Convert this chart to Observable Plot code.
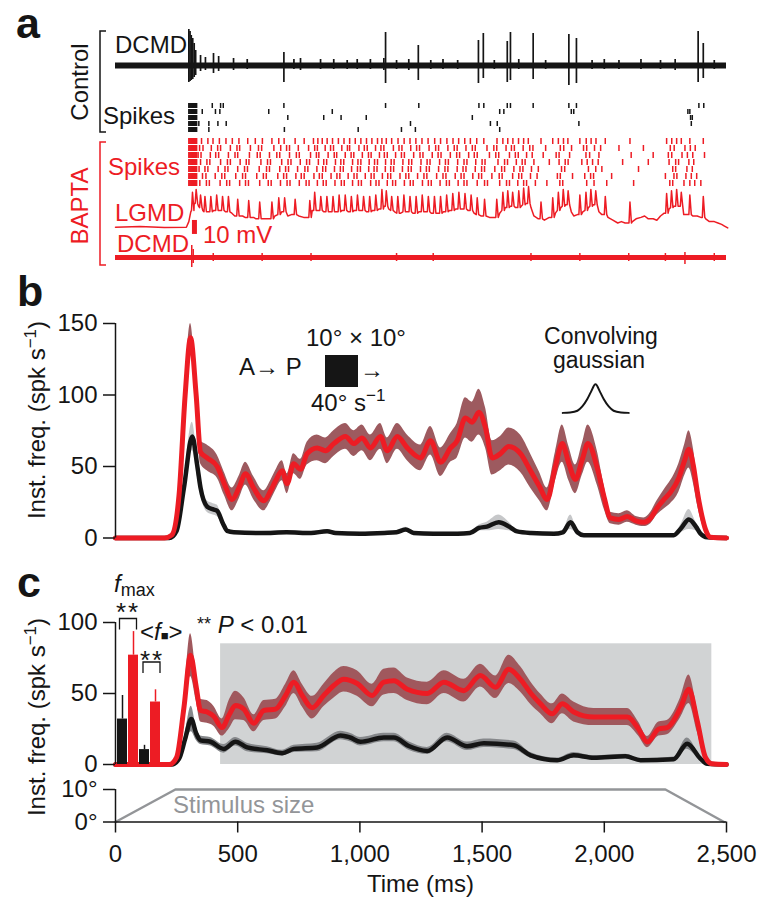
<!DOCTYPE html>
<html><head><meta charset="utf-8">
<script src="https://cdn.jsdelivr.net/npm/d3@7"></script>
<script src="https://cdn.jsdelivr.net/npm/@observablehq/plot@0.6"></script>
<style>
html,body{margin:0;padding:0;background:#fff}
#fig{position:relative;width:765px;height:909px;background:#fff;overflow:hidden;font-family:"Liberation Sans",Arial,sans-serif}
</style></head>
<body><div id="fig"></div>
<script>
// ---------------- DATA ----------------
const timeDomain = [0, 2500];
const timeTicks = [0, 500, 1000, 1500, 2000, 2500];

// Panel a: control DCMD extracellular trace (spike times in ms, up/down deflections, arbitrary µV)
const ctrlDcmdT    = [300,305,310,316,322,328,348,368,401,422,483,539,689,730,757,839,893,948,989,1043,1098,1105,1150,1200,1239,1290,1340,1400,1485,1505,1550,1603,1616,1650,1709,1760,1855,1886,1950,2000,2060,2150,2230,2290,2384,2405,2450];
const ctrlDcmdUp   = [36,34,30,27,22,15,10,8,12,9,7,6,13,6,7,6,6,5,6,6,7,33,5,6,20,5,6,5,25,32,5,24,33,6,32,5,31,27,5,6,5,6,5,6,34,22,5];
const ctrlDcmdDown = [17,16,15,14,12,10,6,5,8,6,5,4,17,4,5,4,4,4,4,4,5,18,4,5,15,4,4,4,18,13,4,17,15,4,14,4,20,18,4,4,4,4,4,5,17,13,4];

// onset burst common to all trials (ms)
const onsetBurst = [300,304,308,312,316,320,324,328,332];

// Panel a: control spike raster (5 trials, ms)
const ctrlTrial1 = [396,430,441,689,1105,1241,1487,1507,1603,1616,1709,1855,1886,2387,2407];
const ctrlTrial2 = [355,409,427,627,887,1572,1589,1865,1875,2342,2350];
const ctrlTrial3 = [705,852,923,1026,1460,2353,2360];
const ctrlTrial4 = [341,382,419,453,1207,1534,1562,1896,2356];
const ctrlTrial5 = [382,691,993,1170,1227,1572];

// Panel a: BAPTA spike raster (7 trials, ms)
const baptaTrial1 = [352,378,399,425,452,478,505,541,572,601,640,668,690,735,772,810,828,846,866,888,912,935,958,981,1004,1027,1049,1072,1090,1108,1130,1156,1181,1205,1229,1254,1279,1306,1330,1356,1381,1404,1429,1452,1478,1507,1561,1585,1605,1626,1649,1670,1689,1741,1789,1812,1833,1851,1900,1926,1946,1966,2004,2105,2255,2276,2296,2315,2350,2405];
const baptaTrial2 = [344,358,392,418,430,470,497,508,552,585,598,648,676,700,712,748,790,815,826,858,880,892,926,949,958,996,1018,1030,1064,1086,1098,1137,1160,1172,1208,1232,1244,1283,1310,1322,1360,1386,1398,1434,1460,1472,1520,1548,1560,1598,1620,1632,1668,1695,1708,1760,1820,1834,1866,1915,1928,1960,1985,2060,2160,2270,2286,2330,2352,2372];
const baptaTrial3 = [338,350,388,410,422,462,489,500,548,580,592,630,660,672,712,740,752,798,822,832,870,895,905,940,964,975,1010,1035,1046,1080,1100,1112,1146,1170,1182,1220,1246,1258,1296,1320,1332,1370,1396,1408,1445,1468,1480,1530,1556,1568,1612,1636,1648,1682,1705,1750,1803,1815,1858,1925,1940,1978,2110,2200,2262,2276,2318,2340,2362,2410];
const baptaTrial4 = [348,374,386,430,458,470,510,535,546,595,622,634,680,706,718,756,782,794,830,852,864,900,922,934,970,992,1004,1038,1060,1072,1105,1128,1140,1176,1200,1212,1250,1275,1287,1326,1350,1362,1400,1426,1438,1474,1500,1512,1565,1592,1604,1640,1664,1676,1712,1775,1815,1840,1852,1908,1930,1952,1975,2075,2180,2265,2292,2304,2346,2366];
const baptaTrial5 = [342,366,378,420,448,460,500,528,540,588,618,630,672,696,708,745,775,787,824,848,860,896,920,932,966,990,1002,1036,1058,1070,1104,1126,1138,1174,1198,1210,1248,1272,1284,1322,1348,1360,1398,1422,1434,1472,1498,1510,1552,1580,1592,1630,1655,1667,1702,1730,1825,1838,1935,1965,1990,2140,2280,2292,2338,2360];
const baptaTrial6 = [356,370,408,435,447,492,520,532,578,605,617,664,688,700,738,760,772,812,834,846,882,906,918,952,976,988,1022,1046,1058,1092,1114,1126,1164,1188,1200,1236,1262,1274,1314,1340,1352,1390,1414,1426,1462,1486,1498,1540,1570,1582,1625,1650,1662,1698,1725,1808,1820,1870,1920,1944,1956,2030,2250,2285,2297,2334,2356,2378];
const baptaTrial7 = [345,372,384,428,455,467,508,532,544,590,625,637,675,702,714,752,780,792,826,850,862,898,924,936,970,994,1006,1044,1066,1078,1112,1134,1146,1182,1206,1218,1256,1280,1292,1328,1354,1366,1402,1426,1438,1480,1510,1522,1572,1600,1612,1646,1670,1682,1718,1765,1818,1830,1928,1958,2010,2120,2268,2280,2326,2350,2370,2395];

// Panel a: LGMD membrane potential (mV re rest): slow component [ms, mV] and spikes [ms, base mV, peak mV]
const lgmdSlow = [[0,0],[100,0.4],[200,-0.3],[290,0],[300,4],[308,11],[322,17],[340,15],[357,12],[378,11],[402,12],[426,12],[450,11],[476,10],[488,8],[520,8],[530,7],[565,7],[575,6],[605,6],[620,6],[652,8],[680,11],[705,8],[720,9],[750,8],[770,7],[785,7],[805,12],[828,12],[852,11],[877,11],[902,11],[927,12],[952,11],[977,12],[1002,12],[1027,11],[1052,12],[1078,13],[1099,15],[1118,13],[1142,11],[1167,10],[1192,11],[1217,10],[1242,11],[1267,11],[1292,10],[1317,10],[1342,11],[1367,12],[1392,13],[1417,13],[1442,12],[1467,10],[1495,8],[1530,7],[1545,7],[1572,10],[1595,14],[1615,15],[1637,14],[1660,15],[1680,17],[1700,14],[1712,8],[1730,6],[1755,5],[1775,7],[1800,10],[1822,14],[1842,16],[1865,11],[1875,8],[1890,9],[1912,11],[1935,14],[1955,16],[1978,11],[1990,9],[2015,7],[2035,5],[2055,3],[2070,4],[2085,3],[2098,3],[2115,4],[2130,6],[2150,7],[2165,8],[2180,6],[2200,6],[2215,5],[2230,8],[2245,10],[2265,13],[2285,15],[2305,15],[2325,9],[2340,9],[2362,8],[2380,8],[2395,7],[2415,6],[2430,4],[2450,4],[2465,3],[2480,2],[2490,1],[2505,-0.5]];
const lgmdSpikes = [[315,12,25],[330,17,27],[348,14,23],[366,11,22],[390,11,22],[414,12,23],[438,12,22],[462,11,22],[500,8,20],[545,7,19],[590,6,18],[640,6,18],[668,9,21],[692,11,21],[735,9,20],[795,7,19],[815,12,25],[840,12,22],[865,11,22],[890,11,22],[915,11,23],[940,12,23],[965,11,22],[990,12,23],[1015,12,22],[1040,11,22],[1065,12,23],[1090,13,27],[1108,15,26],[1130,12,22],[1155,10,22],[1180,11,23],[1205,11,22],[1230,10,22],[1255,11,23],[1280,11,22],[1305,10,22],[1330,10,22],[1355,11,23],[1380,12,24],[1405,13,25],[1430,13,24],[1455,12,23],[1480,9,21],[1510,8,20],[1560,7,20],[1585,12,25],[1605,14,26],[1625,15,25],[1650,14,26],[1670,16,28],[1690,17,29],[1741,6,18],[1789,7,21],[1812,12,25],[1832,15,27],[1852,16,26],[1900,9,23],[1925,12,25],[1945,15,27],[1965,16,26],[2004,9,22],[2105,3,18],[2255,10,24],[2275,14,26],[2296,15,27],[2315,15,25],[2350,9,23],[2405,7,22]];
const scaleBarT = 323, scaleBarLo = -5.2, scaleBarHi = 4.8; // 10 mV

// Panel a: BAPTA DCMD trace
const baptaDcmdT    = [312,318,400,600,800,1150,1300,1700,1900,2100,2250,2330,2450];
const baptaDcmdUp   = [12,8,4,4,4,4,4,4,4,4,4,5,4];
const baptaDcmdDown = [10,6,4,4,4,4,4,4,4,4,4,7,4];

// Panel b: instantaneous frequency (spk/s), mean and s.e.m.
const bRedT    = [0,200,230,260,285,307,330,348,375,416,445,477,505,532,565,607,635,655,682,702,729,757,784,825,859,893,941,975,1009,1043,1084,1112,1153,1194,1248,1289,1330,1371,1398,1432,1459,1487,1514,1541,1575,1609,1657,1698,1735,1766,1800,1828,1855,1882,1910,1933,1971,2000,2025,2060,2094,2130,2162,2190,2216,2250,2271,2305,2330,2346,2365,2380,2400,2414,2434,2500];
const bRedMean = [0,0,2,30,100,140,100,60,56,50,38,27,35,45,35,26,33,40,47,38,52,48,59,63,61,66,71,66,70,63,71,61,71,63,56,68,53,63,68,84,81,88,77,56,59,64,59,47,36,27,50,66,52,41,55,66,49,28,14,13,15,12,11,14,21,28,32,42,55,62,50,33,15,6,0.5,0];
const bRedSem  = [0,0,0.5,4,8,10,8,8,9,8,8,8,8,8,8,7,7,7,7,7,7,7,8,9,9,9,9,9,9,9,9,9,9,9,9,10,10,10,12,14,14,16,14,12,12,13,13,12,10,8,10,13,12,10,11,13,12,8,4,4,4,3,3,4,5,7,8,10,11,13,12,9,5,2,0.3,0];
const bBlkT    = [0,220,250,280,314,335,348,375,400,416,440,457,484,600,700,800,866,900,1000,1100,1150,1187,1220,1300,1400,1450,1487,1520,1568,1610,1643,1700,1794,1830,1862,1890,1916,2100,2284,2315,2346,2375,2394,2421,2500];
const bBlkMean = [0,0,5,35,71,50,35,22,20,19,10,5,4,3.5,4,3.5,4.7,3.5,3,3.5,4,6,3.5,3,3,3.5,7,8,11,8,4.6,3.5,3,4,11,4,2,2,2,7,13,8,3,0.5,0];
const bBlkSem  = [0,0,1,5,10,7,5,4,4,4,2,1,1,1,1,1,1,1,1,1,1,1.5,1,1,1,1,2,3,5,3,1,1,1,1,5,1,0.5,0.5,0.5,3,7,3,1,0.3,0];
const gaussT = [1830,1860,1890,1910,1930,1945,1964,1983,1998,2018,2038,2068,2100];
const gaussV = [87.5,87.8,89,92,97,102,107.5,102,97,92,89,87.8,87.5];

// Panel c
const cRedT    = [0,220,250,280,307,330,348,375,402,436,465,491,525,566,607,655,696,730,764,805,852,893,934,989,1050,1098,1139,1194,1276,1344,1425,1493,1555,1609,1657,1700,1739,1787,1828,1875,1957,2039,2094,2140,2176,2223,2257,2312,2346,2380,2414,2441,2500];
const cRedMean = [0,0,5,40,77,55,38,37,34,26,35,41.5,39,29,38,39,48.6,58,48.6,40,48.6,55.6,60,57,48.6,58,59,53,50,58,52,62.6,54.4,67,60,50,42.7,35.7,42.7,37,33.4,33.4,33.4,25,15.8,25,26,40,53,31,5,0.5,0];
const cRedSem  = [0,0,1,6,15,10,8,8,7,6,10,10,8,6,7,7,8,8,8,8,8,9,9,9,8,9,9,8,8,8,8,8,8,10,9,8,7,7,7,7,6,6,6,5,4,5,5,7,10,8,2,0.3,0];
const cBlkT    = [0,230,260,285,310,330,348,389,443,491,539,621,682,730,825,921,960,1002,1098,1139,1200,1276,1357,1439,1507,1630,1698,1807,1875,1957,2087,2148,2284,2339,2394,2421,2500];
const cBlkMean = [0,0,4,18,32,22,17,16,11,16,12,10,8,11,12,20.5,19,16,19,19,13,9.5,19,12.8,15,13.5,6.5,3,6.5,4.7,5.8,3,3.7,14.7,4,0.5,0];
const cBlkSem  = [0,0,1,4,9,5,3,3,3,3,3,2.5,2,2.5,3,3,3,3,3,3,3,2.5,3,3,3,3,2,1.5,2,1.5,1.5,1,1.5,4,1.5,0.3,0];
const analysisWindow = {start: 430, end: 2440, top: 85};

// Panel c bars: f_max and <f■> (spk/s)
const barCats   = ["Control fmax", "BAPTA fmax", "Control mean", "BAPTA mean"];
const barValues = [32, 77, 10.5, 44];
const barErrors = [16.6, 16.6, 3, 8.6];
const barColors = ["#151515", "#ed1c24", "#151515", "#ed1c24"];

// Stimulus size (degrees)
const stimT   = [0, 245, 2250, 2490];
const stimDeg = [0, 10, 10, 0];

// ---------------- DRAWING ----------------
const RED = "#ed1c24", BLK = "#151515";
const FONT = '"Liberation Sans", Arial, sans-serif';
const fig = document.getElementById("fig");
function place(node, top) {
  node.style.position = "absolute";
  node.style.left = "0px";
  node.style.top = top + "px";
  fig.appendChild(node);
}
const style = {background: "transparent", overflow: "visible", fontFamily: FONT, fontSize: "24px", color: BLK};
const common = {width: 765, marginLeft: 115, marginRight: 39, style};
const X = {domain: timeDomain, axis: null};

const series = (t, m, s) => t.map((ti, i) => ({t: ti, m: m[i], lo: Math.max(0, m[i] - s[i]), hi: m[i] + s[i]}));
const spikes = (t, up, down) => t.map((ti, i) => ({t: ti, up: up[i], down: -down[i]}));
const raster = trials => trials.flatMap((arr, i) => onsetBurst.concat(arr).map(t => ({t, trial: i + 1})));
const lgmdLine = lgmdSlow.map(([t, v]) => ({t, v}))
  .concat(lgmdSpikes.flatMap(([t, b, p]) => [{t: t - 4, v: b}, {t, v: p}, {t: t + 6, v: b}]))
  .sort((a, b) => a.t - b.t);

// a: control DCMD
place(Plot.plot({...common, height: 75, marginTop: 0, marginBottom: 0, x: X, y: {domain: [-30, 45], axis: null},
  marks: [
    Plot.ruleY([0], {stroke: BLK, strokeWidth: 6}),
    Plot.ruleX(spikes(ctrlDcmdT, ctrlDcmdUp, ctrlDcmdDown), {x: "t", y1: "down", y2: "up", stroke: BLK, strokeWidth: 1.7})
  ]}), 20);

// a: control raster
place(Plot.plot({...common, height: 35, marginTop: 0, marginBottom: 0, x: X,
  y: {type: "band", domain: [1, 2, 3, 4, 5], padding: 0.12, axis: null},
  marks: [Plot.tickX(raster([ctrlTrial1, ctrlTrial2, ctrlTrial3, ctrlTrial4, ctrlTrial5]), {x: "t", y: "trial", stroke: BLK, strokeWidth: 1.5})]
}), 100);

// a: BAPTA raster
place(Plot.plot({...common, height: 50, marginTop: 0, marginBottom: 0, x: X,
  y: {type: "band", domain: [1, 2, 3, 4, 5, 6, 7], padding: 0.1, axis: null},
  marks: [Plot.tickX(raster([baptaTrial1, baptaTrial2, baptaTrial3, baptaTrial4, baptaTrial5, baptaTrial6, baptaTrial7]), {x: "t", y: "trial", stroke: RED, strokeWidth: 1.5})]
}), 137);

// a: LGMD trace + 10 mV bar
place(Plot.plot({...common, height: 60, marginTop: 0, marginBottom: 0, x: X, y: {domain: [-13.1, 29.8], axis: null},
  marks: [
    Plot.line(lgmdLine, {x: "t", y: "v", stroke: RED, strokeWidth: 1.5}),
    Plot.ruleX([{t: scaleBarT, lo: scaleBarLo, hi: scaleBarHi}], {x: "t", y1: "lo", y2: "hi", stroke: RED, strokeWidth: 5})
  ]}), 185);

// a: BAPTA DCMD
place(Plot.plot({...common, height: 30, marginTop: 0, marginBottom: 0, x: X, y: {domain: [-13, 17], axis: null},
  marks: [
    Plot.ruleY([0], {stroke: RED, strokeWidth: 5}),
    Plot.ruleX(spikes(baptaDcmdT, baptaDcmdUp, baptaDcmdDown), {x: "t", y1: "down", y2: "up", stroke: RED, strokeWidth: 1.5})
  ]}), 240);

// b
const bRed = series(bRedT, bRedMean, bRedSem), bBlk = series(bBlkT, bBlkMean, bBlkSem);
const gauss = gaussT.map((t, i) => ({t, v: gaussV[i]}));
place(Plot.plot({...common, height: 250, marginTop: 23, marginBottom: 12.5, x: X, y: {domain: [0, 150]},
  marks: [
    Plot.areaY(bBlk, {x: "t", y1: "lo", y2: "hi", fill: "#c6c7c9", curve: "monotone-x"}),
    Plot.areaY(bRed, {x: "t", y1: "lo", y2: "hi", fill: "#9d5a5f", curve: "monotone-x"}),
    Plot.lineY(bBlk, {x: "t", y: "m", stroke: BLK, strokeWidth: 4.5, curve: "monotone-x"}),
    Plot.lineY(bRed, {x: "t", y: "m", stroke: RED, strokeWidth: 5, curve: "monotone-x"}),
    Plot.line(gauss, {x: "t", y: "v", stroke: BLK, strokeWidth: 2, curve: "monotone-x"}),
    Plot.ruleX([0], {y1: 0, y2: 150, stroke: BLK, strokeWidth: 1.5}),
    Plot.axisY({ticks: [0, 50, 100, 150], tickSize: 12, tickPadding: 6, label: null, strokeWidth: 1.5, fontSize: 24})
  ]}), 300);

// c
const cRed = series(cRedT, cRedMean, cRedSem), cBlk = series(cBlkT, cBlkMean, cBlkSem);
place(Plot.plot({...common, height: 184, marginTop: 32, marginBottom: 10, x: X, y: {domain: [0, 100]},
  marks: [
    Plot.rect([analysisWindow], {x1: "start", x2: "end", y1: 0, y2: "top", fill: "#d1d3d4"}),
    Plot.areaY(cBlk, {x: "t", y1: "lo", y2: "hi", fill: "#86888b", curve: "monotone-x"}),
    Plot.areaY(cRed, {x: "t", y1: "lo", y2: "hi", fill: "#a0585d", curve: "monotone-x"}),
    Plot.lineY(cBlk, {x: "t", y: "m", stroke: BLK, strokeWidth: 4.5, curve: "monotone-x"}),
    Plot.lineY(cRed, {x: "t", y: "m", stroke: RED, strokeWidth: 5, curve: "monotone-x"}),
    Plot.ruleX([0], {y1: 0, y2: 100, stroke: BLK, strokeWidth: 1.5}),
    Plot.axisY({ticks: [0, 50, 100], tickSize: 12, tickPadding: 6, label: null, strokeWidth: 1.5, fontSize: 24})
  ]}), 590);

// c bars (overlay, own band scale)
const bars = barCats.map((c, i) => ({c, v: barValues[i], e: barValues[i] + barErrors[i], col: barColors[i]}));
place(Plot.plot({width: 765, height: 184, marginTop: 32, marginBottom: 10, marginLeft: 115, marginRight: 603, style,
  x: {type: "band", domain: barCats, padding: 0.12, axis: null},
  y: {domain: [0, 100], axis: null},
  color: {type: "identity"},
  marks: [
    Plot.ruleX(bars, {x: "c", y1: "v", y2: "e", stroke: "col", strokeWidth: 1.5}),
    Plot.barY(bars, {x: "c", y: "v", fill: "col"})
  ]}), 590);

// stimulus size + time axis
const stim = stimT.map((t, i) => ({t, d: stimDeg[i]}));
place(Plot.plot({...common, height: 139, marginTop: 19, marginBottom: 87.5, x: {domain: timeDomain}, y: {domain: [0, 10]},
  marks: [
    Plot.line(stim, {x: "t", y: "d", stroke: "#939598", strokeWidth: 2.5}),
    Plot.ruleX([0], {y1: 0, y2: 10, stroke: BLK, strokeWidth: 1.5}),
    Plot.ruleY([0], {stroke: BLK, strokeWidth: 1.5}),
    Plot.axisX({ticks: timeTicks, tickSize: 11, tickPadding: 12, tickFormat: d3.format(","), label: null, strokeWidth: 1.5, fontSize: 24}),
    Plot.axisY({ticks: [0, 10], tickSize: 12, tickPadding: 6, tickFormat: d => d + "°", label: null, strokeWidth: 1.5, fontSize: 24})
  ]}), 770);

// text annotations overlay
const ns = "http://www.w3.org/2000/svg";
const ov = document.createElementNS(ns, "svg");
ov.setAttribute("width", 765); ov.setAttribute("height", 909);
ov.style.position = "absolute"; ov.style.left = "0px"; ov.style.top = "0px"; ov.style.pointerEvents = "none";
ov.setAttribute("font-family", FONT); ov.setAttribute("font-size", "24"); ov.setAttribute("fill", BLK);
ov.innerHTML = `
<g font-weight="bold" font-size="43"><text x="16" y="38">a</text><text x="17" y="306">b</text><text x="17" y="597">c</text></g>
<text transform="translate(88,82) rotate(-90)" text-anchor="middle">Control</text>
<text transform="translate(88,206) rotate(-90)" text-anchor="middle" fill="${RED}">BAPTA</text>
<path d="M106,31H100V132H106" fill="none" stroke="${BLK}" stroke-width="1.5"/>
<path d="M106,142H100V265H106" fill="none" stroke="${RED}" stroke-width="1.5"/>
<text x="115" y="53">DCMD</text>
<text x="103" y="124">Spikes</text>
<g fill="${RED}"><text x="108" y="175">Spikes</text><text x="115" y="221">LGMD</text><text x="203" y="243">10 mV</text><text x="117" y="252">DCMD</text></g>
<text transform="translate(45,420) rotate(-90)" text-anchor="middle">Inst. freq. (spk s<tspan dy="-9" font-size="17">−1</tspan><tspan dy="9">)</tspan></text>
<text transform="translate(45,717) rotate(-90)" text-anchor="middle">Inst. freq. (spk s<tspan dy="-9" font-size="17">−1</tspan><tspan dy="9">)</tspan></text>
<text x="239" y="375">A→ P</text>
<text x="306" y="346">10° × 10°</text>
<rect x="325" y="355" width="33" height="32" fill="${BLK}"/>
<text x="360" y="378">→</text>
<text x="311" y="411">40° s<tspan dy="-10" font-size="17">−1</tspan></text>
<g font-size="23"><text x="601" y="344" text-anchor="middle">Convolving</text>
<text x="599" y="368" text-anchor="middle">gaussian</text></g>
<text x="114" y="592"><tspan font-style="italic">f</tspan><tspan dy="4" font-size="18">max</tspan></text>
<text x="128" y="621" text-anchor="middle" font-size="26" letter-spacing="2">**</text>
<path d="M119.5,629.5V618.5H136.5V629.5" fill="none" stroke="${BLK}" stroke-width="1.3"/>
<text x="140" y="640">&lt;<tspan font-style="italic">f</tspan><tspan font-size="13">■</tspan>&gt;</text>
<text x="152" y="669" text-anchor="middle" font-size="26" letter-spacing="2">**</text>
<path d="M143,673V662H160V673" fill="none" stroke="${BLK}" stroke-width="1.3"/>
<text x="197" y="633"><tspan font-size="18" dy="-3">**</tspan><tspan dy="3" font-style="italic"> P</tspan> &lt; 0.01</text>
<text x="173" y="813" fill="#939598">Stimulus size</text>
<text x="420.5" y="892" text-anchor="middle">Time (ms)</text>
`;
fig.appendChild(ov);
</script>
</body></html>
